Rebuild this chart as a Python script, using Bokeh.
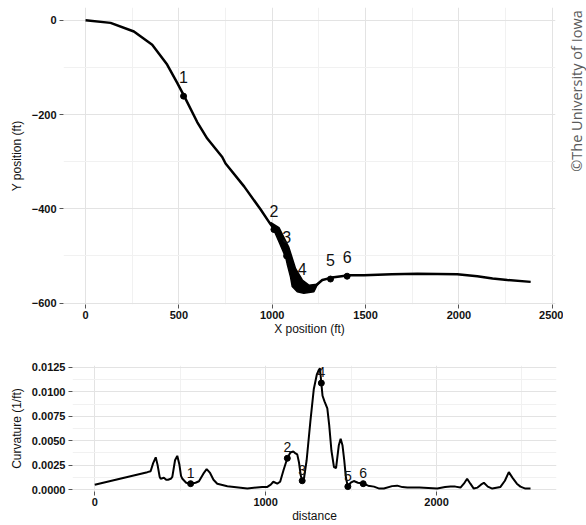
import numpy as np
from bokeh.plotting import figure
from bokeh.layouts import column, row
from bokeh.models import FixedTicker, Label, Range1d, NumeralTickFormatter
from bokeh.core.properties import value
from bokeh.embed import file_html
from bokeh.resources import INLINE

# ---------------- data: track (top panel) ----------------
path_x = [0, 134, 259, 357, 437, 491, 527, 598, 652, 732, 750, 850, 937, 991, 1045,
          1080, 1116, 1161, 1214, 1268, 1330, 1411, 1491, 1640, 1777, 1991, 2098,
          2180, 2259, 2384]
path_y = [0, -5.6, -24, -52, -94, -133, -160, -216, -251, -290, -304, -353, -401,
          -433, -461, -503, -551, -572, -569, -551, -545, -541, -541, -539, -538,
          -539, -543, -548, -551, -555]

# spread of repeated runs around the sharp turn (outer / inner edges)
band_outer_x = [991, 1036, 1072, 1080, 1098, 1107, 1134, 1169, 1223, 1240, 1268]
band_outer_y = [-429, -470, -503, -517, -545, -565, -576, -579, -576, -562, -551]
band_inner_x = [991, 1036, 1089, 1125, 1161, 1196, 1240, 1268]
band_inner_y = [-429, -440, -482, -527, -551, -562, -560, -551]

mark_x = [525, 1009, 1077, 1161, 1312, 1401]
mark_y = [-161, -444, -500, -569, -549, -543]
mark_lab = ["1", "2", "3", "4", "5", "6"]

# ---------------- data: curvature (bottom panel) ----------------
dist = [0, 308, 327, 342, 357, 368, 380, 386, 405, 418, 429, 445, 454, 470, 483,
        495, 505, 513, 535, 561, 590, 610, 635, 655, 675, 695, 717, 776, 893, 980,
        1010, 1030, 1045, 1068, 1085, 1105, 1127, 1145, 1162, 1175, 1185, 1195,
        1205, 1214, 1225, 1240, 1262, 1282, 1300, 1310, 1318, 1326, 1333, 1345,
        1361, 1372, 1385, 1400, 1412, 1428, 1439, 1450, 1460, 1470, 1481, 1498,
        1516, 1540, 1571, 1600, 1634, 1665, 1692, 1740, 1770, 1800, 1829, 1900,
        2004, 2050, 2082, 2110, 2140, 2160, 2179, 2198, 2218, 2240, 2260, 2277,
        2300, 2326, 2374, 2400, 2423, 2445, 2470, 2491, 2520, 2550]
curv = [0.0005, 0.00178, 0.00188, 0.0027, 0.0033, 0.0025, 0.0013, 0.0011, 0.0012,
        0.0010, 0.0010, 0.0011, 0.0013, 0.0030, 0.00345, 0.0026, 0.0014, 0.0011,
        0.0007, 0.0006, 0.0007, 0.00085, 0.0016, 0.0021, 0.0017, 0.0010, 0.0006,
        0.00033, 0.0001, 0.00027, 0.00027, 0.0005, 0.0008, 0.0006, 0.0008, 0.0020,
        0.0032, 0.0038, 0.0039, 0.0037, 0.0036, 0.0028, 0.0015, 0.0009, 0.0012,
        0.0030, 0.0070, 0.0103, 0.0118, 0.0122, 0.0124, 0.0109, 0.0096, 0.0090,
        0.0083, 0.0066, 0.0040, 0.0023, 0.0022, 0.0045, 0.0052, 0.0045, 0.0030,
        0.0012, 0.0003, 0.0007, 0.00087, 0.0007, 0.0006, 0.0004, 0.0003, 0.0001,
        0.0001, 0.00035, 0.0004, 0.00025, 0.0002, 0.0002, 0.0001, 0.00025, 0.0003,
        0.0003, 0.0002, 0.0006, 0.0011, 0.0006, 0.0001, 0.0002, 0.0005, 0.0007,
        0.0003, 0.0001, 0.00027, 0.0009, 0.00178, 0.0012, 0.0006, 0.0003, 0.0001,
        0.0001]

cmark_d = [561, 1127, 1214, 1326, 1481, 1571]
cmark_c = [0.0006, 0.0032, 0.0009, 0.0109, 0.0003, 0.0006]

x_ticks_top = [0, 500, 1000, 1500, 2000, 2500]
y_ticks_top = [0, -200, -400, -600]
x_ticks_bot = [0, 1000, 2000]
y_ticks_bot = [0.0, 0.0025, 0.005, 0.0075, 0.01, 0.0125]

FONT = "Liberation Sans"


def style(p, xt, xminor, yt, yminor):
    p.outline_line_color = None
    p.background_fill_color = "white"
    p.border_fill_color = "white"
    p.xaxis.ticker = FixedTicker(ticks=xt, minor_ticks=xminor)
    p.yaxis.ticker = FixedTicker(ticks=yt, minor_ticks=yminor)
    for ax in (p.xaxis, p.yaxis):
        ax.axis_line_color = None
        ax.major_tick_line_color = "#555555"
        ax.major_tick_in = 0
        ax.major_tick_out = 4
        ax.minor_tick_line_color = None
        ax.major_label_text_font = FONT
        ax.major_label_text_font_style = "bold"
        ax.major_label_text_font_size = "11px"
        ax.major_label_text_color = "#111111"
        ax.axis_label_text_font = FONT
        ax.axis_label_text_font_style = "normal"
        ax.axis_label_text_font_size = "12px"
        ax.axis_label_text_color = "#111111"
    p.xaxis.major_label_standoff = 2
    p.xaxis.axis_label_standoff = 0
    p.yaxis.major_label_standoff = 3
    p.yaxis.axis_label_standoff = 5
    p.grid.grid_line_color = "#e3e3e3"
    p.grid.grid_line_width = 1
    p.grid.minor_grid_line_color = "#f1f1f1"
    p.grid.minor_grid_line_width = 1


top = figure(width=563, height=338, x_range=Range1d(-118, 2517),
             y_range=Range1d(-603, 27), output_backend="svg",
             toolbar_location=None, min_border_left=63, min_border_right=8,
             min_border_top=7, min_border_bottom=31)
style(top, x_ticks_top, [250, 750, 1250, 1750, 2250], y_ticks_top, [-100, -300, -500])
top.xaxis.axis_label = "X position (ft)"
top.yaxis.axis_label = "Y position (ft)"

top.patch(band_outer_x + band_inner_x[::-1], band_outer_y + band_inner_y[::-1],
          fill_color="black", line_color="black", line_width=1.5)
top.line(path_x, path_y, line_color="black", line_width=2.5)
top.scatter(mark_x, mark_y, size=6, color="black")
top.text(mark_x, mark_y, text=mark_lab, text_align="center", text_baseline="middle",
         y_offset=-19, text_font=value(FONT), text_font_size="16px",
         text_color="#111111")

bot = figure(width=563, height=187, x_range=Range1d(-130, 2702),
             y_range=Range1d(-0.0002, 0.0127), output_backend="svg",
             toolbar_location=None, min_border_left=72, min_border_right=7,
             min_border_top=27, min_border_bottom=32)
style(bot, x_ticks_bot, [500, 1500, 2500], y_ticks_bot,
      [0.00125, 0.00375, 0.00625, 0.00875, 0.01125])
bot.yaxis.formatter = NumeralTickFormatter(format="0.0000")
bot.xaxis.axis_label = "distance"
bot.yaxis.axis_label = "Curvature (1/ft)"

bot.line(dist, curv, line_color="black", line_width=2)
bot.scatter(cmark_d, cmark_c, size=6, color="black")
bot.text(cmark_d, cmark_c, text=mark_lab, text_align="center", text_baseline="middle",
         y_offset=-11, text_font=value(FONT), text_font_size="14px",
         text_color="#111111")

# side strip holding the vertical copyright note
side = figure(width=23, height=338, x_range=Range1d(0, 1), y_range=Range1d(0, 1),
              output_backend="svg", toolbar_location=None,
              x_axis_location=None, y_axis_location=None, min_border=0)
side.outline_line_color = None
side.grid.visible = False
side.add_layout(Label(x=0.55, y=0.447, text="©The University of Iowa", angle=np.pi / 2,
                      text_align="left", text_baseline="middle",
                      text_font="Open Sans", text_font_size="14.5px",
                      text_color="#5a5a5a"))

layout = column(row(top, side), bot)
open("out.html", "w").write(file_html(layout, INLINE))
